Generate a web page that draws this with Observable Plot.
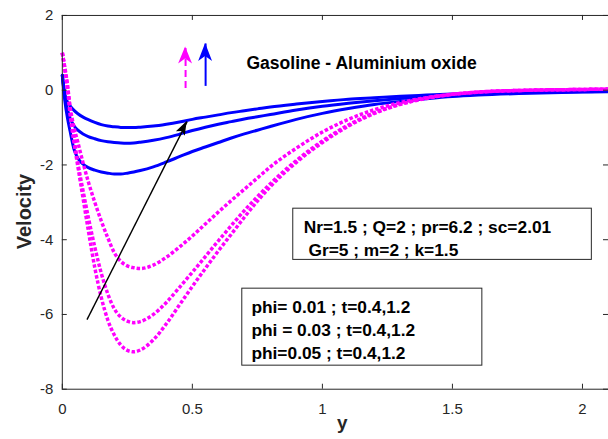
<!DOCTYPE html>
<html><head><meta charset="utf-8">
<script src="https://cdn.jsdelivr.net/npm/d3@7"></script>
<script src="https://cdn.jsdelivr.net/npm/@observablehq/plot@0.6"></script>
<style>
html,body{margin:0;padding:0;background:#fff;overflow:hidden;}
</style></head><body><div id="chart"></div>
<script>
// shared abscissa (y in the original figure)
const xGrid = [0, 0.01, 0.02, 0.03, 0.045, 0.06, 0.08, 0.1, 0.125, 0.15, 0.175, 0.2, 0.225, 0.25, 0.275, 0.3, 0.35, 0.4, 0.45, 0.5, 0.55, 0.6, 0.65, 0.7, 0.75, 0.8, 0.9, 1.0, 1.1, 1.2, 1.3, 1.4, 1.5, 1.6, 1.8, 2.0, 2.1];

// blue solid curves
const blue1 = [0.4, -0.1, -0.32, -0.42, -0.54, -0.63, -0.72, -0.79, -0.86, -0.92, -0.96, -0.98, -0.995, -1.0, -1.0, -0.99, -0.96, -0.91, -0.85, -0.78, -0.72, -0.66, -0.6, -0.55, -0.5, -0.45, -0.37, -0.3, -0.24, -0.2, -0.16, -0.13, -0.1, -0.08, -0.05, -0.03, -0.02];
const blue2 = [0.4, -0.2, -0.52, -0.75, -0.95, -1.07, -1.17, -1.24, -1.3, -1.35, -1.38, -1.4, -1.415, -1.42, -1.41, -1.39, -1.34, -1.27, -1.18, -1.08, -0.99, -0.91, -0.84, -0.77, -0.71, -0.65, -0.53, -0.43, -0.35, -0.28, -0.22, -0.17, -0.13, -0.1, -0.06, -0.04, -0.03];
const blue3 = [0.4, -0.3, -0.75, -1.1, -1.58, -1.82, -1.98, -2.07, -2.14, -2.19, -2.22, -2.24, -2.24, -2.22, -2.19, -2.15, -2.05, -1.92, -1.78, -1.64, -1.52, -1.4, -1.28, -1.17, -1.07, -0.97, -0.78, -0.62, -0.49, -0.38, -0.3, -0.23, -0.17, -0.13, -0.08, -0.05, -0.04];

// magenta dotted curves
const mag1 = [1.0, 0.55, 0.05, -0.45, -1.0, -1.4, -1.95, -2.45, -3.0, -3.5, -3.95, -4.35, -4.58, -4.7, -4.75, -4.77, -4.68, -4.47, -4.2, -3.9, -3.58, -3.26, -2.95, -2.65, -2.35, -2.05, -1.55, -1.12, -0.78, -0.52, -0.33, -0.2, -0.11, -0.05, 0.0, 0.02, 0.03];
const mag2 = [1.0, 0.6, 0.15, -0.5, -1.3, -1.95, -2.7, -3.4, -4.2, -4.9, -5.45, -5.85, -6.07, -6.18, -6.22, -6.19, -6.0, -5.68, -5.28, -4.87, -4.45, -4.03, -3.62, -3.22, -2.85, -2.5, -1.88, -1.36, -0.93, -0.6, -0.37, -0.21, -0.11, -0.05, 0.0, 0.02, 0.03];
const mag3 = [1.0, 0.55, 0.05, -0.65, -1.4, -2.05, -2.9, -3.75, -4.75, -5.55, -6.15, -6.55, -6.82, -6.96, -7.0, -6.95, -6.68, -6.25, -5.75, -5.25, -4.77, -4.3, -3.85, -3.4, -2.97, -2.58, -1.93, -1.4, -0.96, -0.62, -0.38, -0.22, -0.11, -0.05, 0.0, 0.02, 0.03];

const xTicks = [0, 0.5, 1, 1.5, 2];
const yTicks = [-8, -6, -4, -2, 0, 2];

// annotation arrows (data coordinates): start x, start y, tip x, tip y
const arrowX1 = [0.095, 0.474, 0.551];
const arrowY1 = [-6.14, 0.06, 0.115];
const arrowX2 = [0.48, 0.474, 0.551];
const arrowY2 = [-0.84, 1.155, 1.25];

const titleText = ["Gasoline - Aluminium oxide"];
const paramLines = ["Nr=1.5 ; Q=2 ; pr=6.2 ; sc=2.01", "\u00a0Gr=5 ; m=2 ; k=1.5"];
const phiLines = ["phi= 0.01 ; t=0.4,1.2", "phi = 0.03 ; t=0.4,1.2", "phi=0.05 ; t=0.4,1.2"];

const blueSeries = [blue1, blue2, blue3];
const magSeries = [mag1, mag2, mag3];
const blueRows = blueSeries.flatMap((s, k) => xGrid.map((x, i) => ({x, v: s[i], id: k})));
const magRows = magSeries.flatMap((s, k) => xGrid.map((x, i) => ({x, v: s[i], id: k})));

const arrows = arrowX1.map((x1, i) => ({x1, y1: arrowY1[i], x2: arrowX2[i], y2: arrowY2[i]}));
const arrowColor = ["#000000", "#ff00ff", "#0000ff"];
const arrowDash = ["none", "7,4", "none"];
const arrowWidth = [1.4, 2, 2];
const headLen = [14, 17, 18];
const headWid = [10, 14, 14];
const headNotch = [3, 5, 5];

const W = 610, H = 439, ML = 62, MT = 15, MB = 49, MR = 0;
const plotH = H - MT - MB, plotW = W - ML - MR;
const axisColor = "#262626";
const font = "'Liberation Sans', Arial, Helvetica, sans-serif";

function arrowHeads(index, scales) {
  const g = d3.create("svg:g");
  arrows.forEach((a, i) => {
    const px1 = scales.x(a.x1), py1 = scales.y(a.y1), px2 = scales.x(a.x2), py2 = scales.y(a.y2);
    const ang = Math.atan2(py2 - py1, px2 - px1) * 180 / Math.PI;
    const L = headLen[i], w = headWid[i] / 2, n = headNotch[i];
    g.append("path")
      .attr("d", `M0,0L${-L},${-w}L${-L + n},0L${-L},${w}Z`)
      .attr("fill", arrowColor[i])
      .attr("transform", `translate(${px2},${py2}) rotate(${ang})`);
  });
  return g.node();
}

const chart = Plot.plot({
  width: W, height: H,
  marginLeft: ML, marginTop: MT, marginBottom: MB, marginRight: MR,
  x: {domain: [0, 2.1]},
  y: {domain: [-8, 2]},
  style: {fontFamily: font, fontSize: "15px", color: axisColor, background: "white"},
  marks: [
    Plot.line(blueRows, {x: "x", y: "v", z: "id", stroke: "#0000ff", strokeWidth: 3, curve: "monotone-x"}),
    Plot.line(magRows, {x: "x", y: "v", z: "id", stroke: "#ff00ff", strokeWidth: 3.5, strokeDasharray: "3.5,2", strokeLinecap: "butt", curve: "monotone-x"}),
    ...arrows.map((a, i) => Plot.link([a], {x1: "x1", y1: "y1", x2: "x2", y2: "y2", stroke: arrowColor[i], strokeWidth: arrowWidth[i], strokeDasharray: arrowDash[i], strokeLinecap: "butt"})),
    arrowHeads,
    Plot.text(titleText, {x: 0.708, y: 0.72, text: d => d, textAnchor: "start", fontWeight: "bold", fontSize: 17.6, fill: "#000", fontFamily: font}),
    Plot.rect([0], {x1: 0.888, x2: 2.036, y1: -3.17, y2: -4.54, fill: "white", stroke: axisColor, strokeWidth: 1}),
    Plot.text(paramLines, {x: 0.928, y: (d, i) => [-3.81, -4.44][i], text: d => d, textAnchor: "start", lineAnchor: "bottom", fontWeight: "bold", fontSize: 17.4, fill: "#000", fontFamily: font}),
    Plot.rect([0], {x1: 0.692, x2: 1.615, y1: -5.31, y2: -7.37, fill: "white", stroke: axisColor, strokeWidth: 1}),
    Plot.text(phiLines, {x: 0.727, y: (d, i) => [-5.95, -6.57, -7.19][i], text: d => d, textAnchor: "start", lineAnchor: "bottom", fontWeight: "bold", fontSize: 17.4, fill: "#000", fontFamily: font}),
    Plot.frame({stroke: axisColor}),
    Plot.tickX(xTicks, {x: d => d, insetTop: plotH - 5, stroke: axisColor}),
    Plot.tickX(xTicks, {x: d => d, insetBottom: plotH - 5, stroke: axisColor}),
    Plot.tickY(yTicks, {y: d => d, insetRight: plotW - 5, stroke: axisColor}),
    Plot.tickY(yTicks, {y: d => d, insetLeft: plotW - 5, stroke: axisColor}),
    Plot.axisX(xTicks, {tickSize: 0, tickPadding: 14, label: null, tickFormat: d => String(d)}),
    Plot.axisY(yTicks, {tickSize: 0, tickPadding: 9, label: null, tickFormat: d => String(d)}),
    Plot.text(["Velocity"], {frameAnchor: "left", dx: -38, dy: 47, rotate: -90, text: d => d, fontWeight: "bold", fontSize: 20, fill: axisColor}),
    Plot.text(["y"], {frameAnchor: "bottom", dx: 7, dy: 40, text: d => d, fontWeight: "bold", fontSize: 19, fill: axisColor})
  ]
});
document.getElementById("chart").appendChild(chart);
</script></body></html>
